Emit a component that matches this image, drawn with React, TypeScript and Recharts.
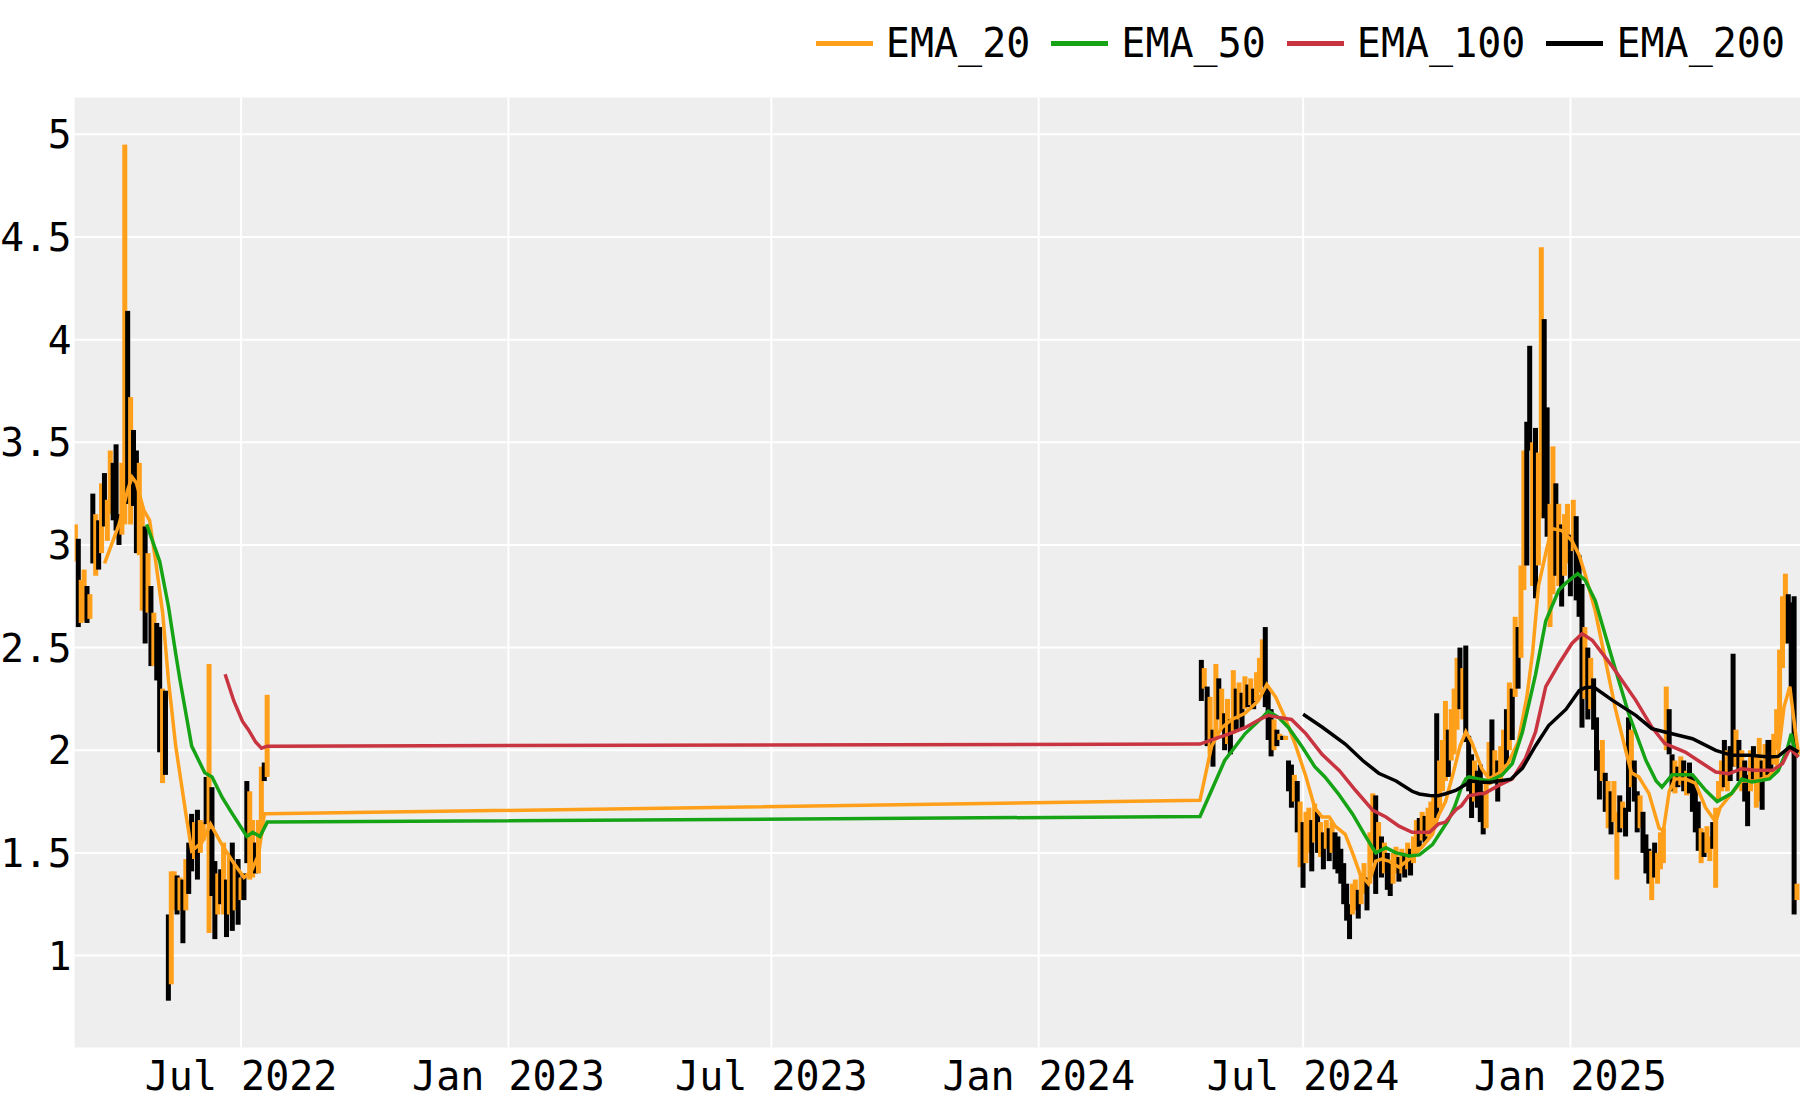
import React from 'react';
import { ComposedChart, Bar, Line, XAxis, YAxis, CartesianGrid } from 'recharts';

// ---------- axis settings ----------
const ORIGIN = Date.UTC(2022, 0, 1);
const dayOf = (iso: string) => {
  const [y, m, d] = iso.split('-').map(Number);
  return (Date.UTC(y, m - 1, d) - ORIGIN) / 86400000;
};

const tickDates = ['2022-07-01', '2023-01-01', '2023-07-01', '2024-01-01', '2024-07-01', '2025-01-01'];
const tickLabels = ['Jul 2022', 'Jan 2023', 'Jul 2023', 'Jan 2024', 'Jul 2024', 'Jan 2025'];
const yTicks = [1, 1.5, 2, 2.5, 3, 3.5, 4, 4.5, 5];
const xDomainDays: [number, number] = [66.4, 1254];
const yDomain: [number, number] = [0.552, 5.179];

// ---------- candles (two-day bars), low / high / up(1)=orange, down(0)=black ----------
const seg1Start = '2022-03-09';
const seg1Low = [
  2.92, 2.60, 2.62, 2.63, 2.62, 2.64, 2.91, 2.85, 2.88, 2.96,
  3.09, 3.02, 3.15, 3.12, 3.07, 3.00, 3.05, 3.10, 3.20, 3.10,
  3.19, 2.96, 2.95, 2.68, 2.52, 2.67, 2.41, 2.41, 2.34, 1.99,
  1.84, 1.88, 0.78, 0.86, 1.22, 1.20, 1.22, 1.06, 1.22, 1.30,
  1.41, 1.47, 1.37, 1.50, 1.56, 1.64, 1.11, 1.29, 1.08, 1.20,
  1.25, 1.20, 1.09, 1.20, 1.12, 1.22, 1.15, 1.27, 1.27, 1.45,
  1.37, 1.38, 1.40, 1.40, 1.59, 1.85, 1.87,
];
const seg1High = [
  3.10, 3.03, 2.83, 2.88, 2.80, 2.76, 3.25, 3.15, 3.12, 3.30,
  3.35, 3.22, 3.46, 3.40, 3.49, 3.15, 3.40, 4.95, 4.14, 3.72,
  3.56, 3.46, 3.40, 3.17, 3.09, 2.96, 2.80, 2.67, 2.62, 2.60,
  2.30, 2.29, 1.20, 1.41, 1.41, 1.39, 1.38, 1.37, 1.47, 1.55,
  1.69, 1.65, 1.71, 1.66, 1.65, 1.87, 2.42, 1.82, 1.46, 1.40,
  1.42, 1.55, 1.37, 1.50, 1.55, 1.45, 1.47, 1.38, 1.40, 1.85,
  1.80, 1.66, 1.55, 1.66, 1.92, 1.94, 2.27,
];
const seg1Up = [
  1, 0, 1, 1, 0, 1, 0, 1, 0, 1,
  0, 1, 1, 0, 0, 0, 1, 1, 0, 1,
  0, 0, 1, 1, 0, 1, 0, 1, 0, 0,
  1, 0, 0, 1, 1, 0, 1, 0, 1, 0,
  0, 1, 0, 1, 1, 0, 1, 0, 0, 1,
  0, 1, 0, 1, 0, 1, 0, 1, 0, 0,
  1, 1, 0, 1, 1, 0, 1,
];

const seg2Start = '2024-04-22';
const seg2Low = [
  2.24, 2.30, 2.02, 1.98, 1.92, 2.05, 2.15, 2.10, 2.00, 2.03,
  1.98, 2.08, 2.10, 2.15, 2.10, 2.20, 2.21, 2.22, 2.20, 2.24,
  2.28, 2.31, 2.21, 2.05, 1.97, 2.00, 2.02, 2.05, 2.05, 2.05,
  1.80, 1.72, 1.75, 1.60, 1.43, 1.33, 1.45, 1.50, 1.41, 1.55,
  1.50, 1.48, 1.42, 1.52, 1.46, 1.50, 1.42, 1.40, 1.35, 1.25,
  1.17, 1.08, 1.20, 1.22, 1.18, 1.25, 1.30, 1.22, 1.35, 1.45,
  1.30, 1.50, 1.38, 1.40, 1.32, 1.29, 1.35, 1.40, 1.36, 1.40,
  1.38, 1.42, 1.39, 1.45, 1.50, 1.53, 1.56, 1.55, 1.58, 1.60,
  1.62, 1.67, 1.72, 1.80, 1.85, 1.87, 1.95, 1.98, 2.10, 2.20,
  2.15, 2.04, 1.80, 1.67, 1.75, 1.72, 1.65, 1.59, 1.62, 1.83,
  1.87, 1.85, 1.75, 1.83, 1.90, 1.93, 2.00, 2.05, 2.26, 2.30,
  2.45, 2.78, 2.90, 3.46, 2.80, 2.74, 2.90, 3.13, 3.13, 3.04,
  2.60, 2.76, 2.85, 2.80, 2.70, 2.85, 2.91, 2.75, 2.97, 2.73,
  2.65, 2.11, 2.25, 2.15, 2.20, 2.10, 1.90, 1.76, 1.85, 1.70,
  1.62, 1.59, 1.65, 1.37, 1.60, 1.62, 1.58, 1.70, 1.82, 1.75,
  1.60, 1.62, 1.50, 1.40, 1.35, 1.27, 1.38, 1.35, 1.42, 1.45,
  2.00, 1.98, 1.80, 1.79, 1.82, 1.83, 1.80, 1.78, 1.79, 1.70,
  1.60, 1.51, 1.45, 1.48, 1.50, 1.46, 1.52, 1.33, 1.75, 1.80,
  1.82, 1.80, 1.85, 1.92, 1.92, 1.85, 1.80, 1.75, 1.63, 1.80,
  1.85, 1.72, 1.75, 1.71, 1.85, 1.88, 1.90, 1.93, 2.00, 2.08,
  2.40, 2.52, 2.52, 2.30, 1.20, 1.27,
];
const seg2High = [
  2.44, 2.40, 2.31, 2.26, 2.10, 2.42, 2.35, 2.30, 2.18, 2.25,
  2.15, 2.39, 2.30, 2.33, 2.28, 2.36, 2.32, 2.35, 2.30, 2.38,
  2.45, 2.54, 2.60, 2.30, 2.20, 2.15, 2.10, 2.08, 2.07, 2.07,
  1.95, 1.93, 1.88, 1.85, 1.75, 1.65, 1.70, 1.72, 1.66, 1.74,
  1.70, 1.65, 1.60, 1.66, 1.62, 1.65, 1.60, 1.58, 1.52, 1.45,
  1.35, 1.25, 1.35, 1.37, 1.32, 1.40, 1.45, 1.38, 1.60, 1.79,
  1.78, 1.65, 1.58, 1.55, 1.50, 1.45, 1.50, 1.53, 1.48, 1.52,
  1.50, 1.55, 1.52, 1.58, 1.66, 1.67, 1.70, 1.68, 1.72, 1.75,
  1.78, 2.18, 1.95, 2.05, 2.24, 2.10, 2.20, 2.30, 2.45, 2.50,
  2.40, 2.51, 2.07, 1.98, 1.95, 1.90, 1.93, 1.80, 1.85, 2.04,
  2.15, 2.00, 1.95, 2.02, 2.10, 2.20, 2.33, 2.30, 2.65, 2.60,
  2.90, 3.46, 3.60, 3.97, 3.50, 3.57, 3.45, 4.45, 4.10, 3.67,
  3.20, 3.48, 3.30, 3.20, 3.10, 3.15, 3.20, 3.05, 3.22, 3.14,
  2.95, 2.81, 2.60, 2.50, 2.45, 2.35, 2.16, 2.00, 2.05, 1.89,
  1.85, 1.80, 1.85, 1.70, 1.78, 1.75, 1.72, 2.16, 2.10, 1.95,
  1.80, 1.78, 1.70, 1.59, 1.52, 1.51, 1.55, 1.50, 1.60, 1.62,
  2.31, 2.20, 1.98, 1.95, 1.92, 1.97, 1.95, 1.90, 1.94, 1.88,
  1.84, 1.75, 1.62, 1.60, 1.63, 1.58, 1.65, 1.72, 1.85, 1.95,
  2.05, 2.00, 2.02, 2.47, 2.10, 2.05, 2.00, 1.95, 1.88, 2.00,
  2.02, 1.98, 2.06, 1.95, 2.03, 2.05, 2.05, 2.08, 2.20, 2.49,
  2.75, 2.86, 2.76, 2.72, 2.75, 1.35,
];
const seg2Up = [
  0, 1, 0, 1, 0, 1, 0, 1, 0, 1,
  0, 1, 0, 1, 0, 1, 0, 1, 0, 1,
  1, 1, 0, 0, 0, 1, 0, 1, 0, 1,
  0, 0, 1, 0, 1, 0, 1, 1, 0, 1,
  0, 1, 0, 1, 0, 1, 0, 0, 0, 0,
  0, 0, 1, 1, 0, 1, 1, 0, 1, 1,
  0, 1, 0, 1, 0, 0, 1, 1, 0, 1,
  0, 1, 0, 1, 1, 0, 1, 0, 1, 1,
  1, 0, 1, 1, 1, 0, 1, 1, 1, 0,
  1, 0, 0, 0, 1, 0, 0, 0, 1, 1,
  0, 1, 0, 1, 1, 0, 1, 0, 1, 0,
  1, 1, 0, 0, 1, 0, 1, 1, 0, 0,
  1, 1, 0, 1, 0, 1, 1, 0, 1, 0,
  0, 0, 1, 0, 1, 0, 0, 0, 1, 0,
  1, 0, 1, 1, 0, 1, 0, 0, 1, 0,
  0, 1, 0, 0, 0, 1, 0, 1, 1, 1,
  1, 0, 0, 1, 0, 1, 0, 1, 0, 0,
  0, 0, 1, 0, 1, 1, 0, 1, 1, 1,
  0, 1, 0, 0, 1, 0, 1, 0, 0, 1,
  0, 1, 1, 0, 1, 0, 0, 1, 1, 1,
  1, 1, 0, 0, 0, 1,
];

// ---------- EMA lines: [days since 2022-01-01, value] ----------
const ema20: [number, number][] = [
  [87, 2.91], [97, 3.10], [103, 3.27], [106, 3.33], [109, 3.30], [114, 3.17], [118, 3.12],
  [122, 2.93], [127, 2.67], [131, 2.34], [136, 2.02], [143, 1.69], [147, 1.51], [154, 1.55],
  [160, 1.64], [167, 1.55], [175, 1.46], [183, 1.38], [188, 1.41], [193, 1.49], [197, 1.69],
  [199, 1.69], [841, 1.756], [849, 2.02], [856, 2.11], [863, 2.15], [872, 2.18], [881, 2.24],
  [887, 2.32], [893, 2.26], [900, 2.15], [907, 2.02], [914, 1.87], [920, 1.72], [925, 1.675],
  [930, 1.675], [934, 1.63], [941, 1.59], [946, 1.50], [951, 1.40], [957, 1.35], [962, 1.46],
  [966, 1.47], [971, 1.46], [978, 1.43], [987, 1.48], [994, 1.53], [1001, 1.59], [1005, 1.68],
  [1010, 1.75], [1015, 1.88], [1020, 2.02], [1024, 2.09], [1028, 2.04], [1035, 1.91],
  [1040, 1.86], [1047, 1.89], [1053, 1.935], [1060, 2.04], [1066, 2.26], [1070, 2.48],
  [1074, 2.80], [1079, 2.96], [1083, 3.08], [1090, 3.07], [1097, 3.02], [1102, 2.95],
  [1106, 2.86], [1113, 2.68], [1120, 2.44], [1127, 2.20], [1134, 2.00], [1138, 1.89],
  [1143, 1.87], [1150, 1.79], [1157, 1.62], [1160, 1.61], [1164, 1.80], [1168, 1.86],
  [1175, 1.86], [1182, 1.84], [1189, 1.72], [1196, 1.65], [1199, 1.72], [1207, 1.79],
  [1214, 1.85], [1223, 1.85], [1232, 1.87], [1238, 1.92], [1243, 2.21], [1247, 2.31],
  [1251, 2.08], [1253, 1.98],
];
const ema50: [number, number][] = [
  [116, 3.10], [125, 2.92], [131, 2.70], [136, 2.47], [139, 2.34], [147, 2.02], [156, 1.89],
  [161, 1.87], [168, 1.77], [175, 1.69], [185, 1.58], [189, 1.60], [194, 1.58], [199, 1.65],
  [841, 1.677], [849, 1.805], [858, 1.95], [872, 2.08], [884, 2.16], [888, 2.19], [895, 2.16],
  [902, 2.11], [911, 2.02], [920, 1.92], [927, 1.87], [936, 1.79], [946, 1.69], [955, 1.58],
  [962, 1.50], [969, 1.525], [976, 1.50], [985, 1.485], [992, 1.49], [1001, 1.54],
  [1012, 1.66], [1016, 1.72], [1021, 1.82], [1024, 1.86], [1026, 1.87], [1033, 1.86],
  [1040, 1.85], [1049, 1.88], [1056, 1.935], [1063, 2.09], [1072, 2.37], [1079, 2.63],
  [1088, 2.78], [1093, 2.815], [1101, 2.86], [1106, 2.83], [1113, 2.73], [1125, 2.44],
  [1136, 2.18], [1148, 1.95], [1155, 1.85], [1159, 1.82], [1166, 1.88], [1180, 1.88],
  [1189, 1.805], [1197, 1.75], [1207, 1.79], [1214, 1.86], [1221, 1.845], [1233, 1.86],
  [1239, 1.90], [1245, 2.0], [1248, 2.08], [1251, 1.98], [1253, 1.97],
];
const ema100: [number, number][] = [
  [170, 2.37], [176, 2.24], [182, 2.14], [186, 2.10], [191, 2.04], [195, 2.01], [199, 2.02],
  [841, 2.03], [849, 2.05], [861, 2.08], [872, 2.11], [882, 2.15], [888, 2.17], [895, 2.16],
  [904, 2.15], [914, 2.08], [925, 1.98], [937, 1.90], [948, 1.805], [960, 1.707], [969, 1.675],
  [978, 1.63], [987, 1.60], [999, 1.60], [1005, 1.64], [1010, 1.65], [1017, 1.71], [1021, 1.73],
  [1026, 1.778], [1033, 1.788], [1037, 1.79], [1047, 1.83], [1056, 1.86], [1065, 1.96],
  [1072, 2.09], [1079, 2.31], [1088, 2.42], [1097, 2.52], [1104, 2.568], [1111, 2.536],
  [1125, 2.406], [1141, 2.243], [1152, 2.113], [1161, 2.032], [1175, 1.991], [1187, 1.935],
  [1196, 1.894], [1205, 1.886], [1214, 1.91], [1223, 1.902], [1235, 1.902], [1242, 1.935],
  [1247, 2.008], [1253, 1.967],
];
const ema200: [number, number][] = [
  [912, 2.175], [925, 2.113], [941, 2.03], [953, 1.95], [964, 1.888], [976, 1.85], [987, 1.80],
  [992, 1.787], [999, 1.78], [1005, 1.778], [1010, 1.788], [1017, 1.804], [1021, 1.821],
  [1028, 1.85], [1033, 1.845], [1040, 1.843], [1055, 1.859], [1063, 1.913], [1072, 2.022],
  [1081, 2.12], [1093, 2.20], [1102, 2.29], [1106, 2.305], [1112, 2.308], [1125, 2.243],
  [1141, 2.17], [1152, 2.105], [1161, 2.089], [1180, 2.056], [1196, 1.999], [1207, 1.975],
  [1219, 1.975], [1233, 1.967], [1239, 1.97], [1247, 2.016], [1253, 1.991],
];

const seriesNames = ['EMA_20', 'EMA_50', 'EMA_100', 'EMA_200'];
const seriesColors = ['#ff9f1a', '#16a316', '#c83440', '#000000'];
const upColor = '#ff9f1a';
const downColor = '#000000';
const FONT = "'DejaVu Sans Mono', monospace";

// ---------- build table ----------
type Row = { d: number; range?: [number, number]; up?: number; e20?: number; e50?: number; e100?: number; e200?: number };
const rows: Row[] = [];
const addSeg = (start: string, lo: number[], hi: number[], up: number[]) => {
  const s = dayOf(start);
  lo.forEach((l, i) => rows.push({ d: s + 2 * i, range: [l, hi[i]], up: up[i] }));
};
addSeg(seg1Start, seg1Low, seg1High, seg1Up);
addSeg(seg2Start, seg2Low, seg2High, seg2Up);
const addEma = (pts: [number, number][], key: 'e20' | 'e50' | 'e100' | 'e200') =>
  pts.forEach(([d, v]) => rows.push({ d, [key]: v } as Row));
addEma(ema20, 'e20');
addEma(ema50, 'e50');
addEma(ema100, 'e100');
addEma(ema200, 'e200');
rows.sort((a, b) => a.d - b.d);

const tickDays = tickDates.map(dayOf);
const fmtX = (v: number) => {
  const i = tickDays.indexOf(v);
  return i >= 0 ? tickLabels[i] : '';
};

const Candle = (props: any) => {
  const { x, y, width, height, payload } = props;
  if (!payload || !payload.range || !isFinite(y) || !isFinite(height)) return null;
  const cx = x + (isFinite(width) ? width / 2 : 0);
  return (
    <rect
      x={cx - 2.5}
      y={y}
      width={5}
      height={Math.max(height, 2)}
      fill={payload.up ? upColor : downColor}
    />
  );
};

const Legend = () => (
  <div
    style={{
      position: 'absolute',
      top: 18,
      right: 15,
      display: 'flex',
      alignItems: 'center',
      fontFamily: FONT,
      fontSize: 40,
      lineHeight: '50px',
      color: '#000',
    }}
  >
    {seriesNames.map((n, i) => (
      <div key={n} style={{ display: 'flex', alignItems: 'center', marginLeft: i === 0 ? 0 : 21 }}>
        <span style={{ display: 'inline-block', width: 57, height: 5, background: seriesColors[i], marginRight: 13 }} />
        <span>{n}</span>
      </div>
    ))}
  </div>
);

export default function App() {
  return (
    <div style={{ position: 'absolute', left: 0, top: 0, width: 1800, height: 1100, background: '#fff' }}>
      <ComposedChart
        width={1800}
        height={1100}
        data={rows}
        margin={{ top: 97.6, right: 0, bottom: 0, left: 0 }}
      >
        <CartesianGrid fill="#eeeeee" stroke="#ffffff" strokeWidth={2} verticalValues={tickDays} horizontalValues={yTicks} />
        <XAxis
          dataKey="d"
          type="number"
          domain={xDomainDays}
          allowDataOverflow
          ticks={tickDays}
          tickFormatter={fmtX}
          axisLine={false}
          tickLine={false}
          tickSize={0}
          tickMargin={14}
          height={52.5}
          interval={0}
          tick={{ fontFamily: FONT, fontSize: 40, fill: '#000' }}
        />
        <YAxis
          type="number"
          domain={yDomain}
          allowDataOverflow
          ticks={yTicks}
          tickFormatter={(v: number) => String(v)}
          axisLine={false}
          tickLine={false}
          tickSize={0}
          tickMargin={3}
          width={74.6}
          interval={0}
          tick={{ fontFamily: FONT, fontSize: 39.5, fill: '#000' }}
        />
        <Bar dataKey="range" shape={Candle} isAnimationActive={false} />
        <Line dataKey="e20" stroke={seriesColors[0]} strokeWidth={3.5} dot={false} connectNulls isAnimationActive={false} />
        <Line dataKey="e50" stroke={seriesColors[1]} strokeWidth={3.5} dot={false} connectNulls isAnimationActive={false} />
        <Line dataKey="e100" stroke={seriesColors[2]} strokeWidth={3.5} dot={false} connectNulls isAnimationActive={false} />
        <Line dataKey="e200" stroke={seriesColors[3]} strokeWidth={3.5} dot={false} connectNulls isAnimationActive={false} />
      </ComposedChart>
      <Legend />
    </div>
  );
}
